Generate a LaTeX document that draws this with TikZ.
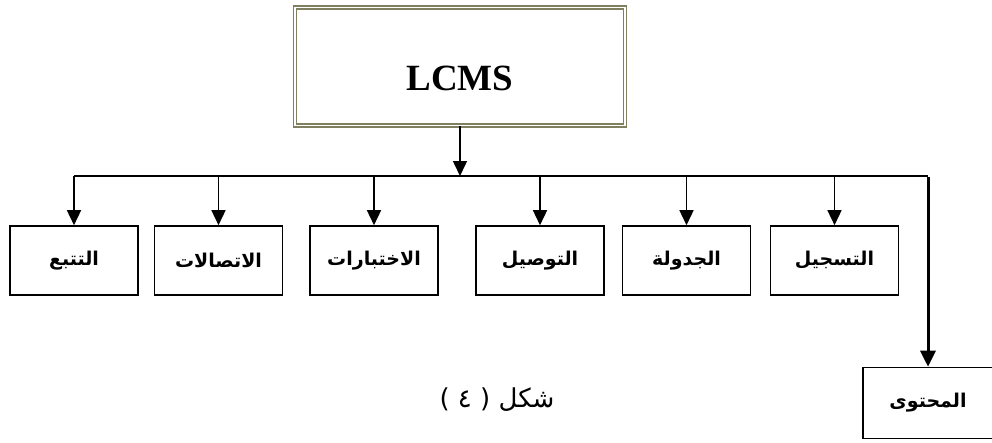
\documentclass[tikz,border=0pt]{standalone}
\usepackage{fontspec}
\setmainfont{Liberation Serif}
\newfontfamily\arabicfont[Script=Arabic]{DejaVu Sans}
\TeXXeTstate=1
\usetikzlibrary{arrows.meta}
\definecolor{olivegray}{RGB}{128,128,96}
\tikzset{
  childbox/.style={draw=black, line width=1.6pt, minimum width=128pt, minimum height=69pt, inner sep=0pt, font=\arabicfont\bfseries\fontsize{19}{22}\selectfont},
  arr/.style={line width=1.5pt, -{Triangle[width=14pt,length=15pt]}},
  busline/.style={line width=1.5pt},
}
\begin{document}
\begin{tikzpicture}[x=1pt,y=-1pt]
\useasboundingbox (0,0) rectangle (992,442);
% top box
\node[draw=olivegray, line width=1.2pt, double=white, double distance=1.8pt, minimum width=330pt, minimum height=118pt, inner sep=0pt] (lcms) at (460,66.5) {};
\node[font=\bfseries\fontsize{37}{40}\selectfont, inner sep=0pt] (lcmstext) at (460,78) {LCMS};
% children
\node[childbox] (b1) at (74,260.5) {\beginR التتبع\endR};
\node[childbox] (b2) at (218.5,260.5) {\beginR الاتصالات\endR};
\node[childbox] (b3) at (374,260.5) {\beginR الاختبارات\endR};
\node[childbox] (b4) at (540,260.5) {\beginR التوصيل\endR};
\node[childbox] (b5) at (686.5,260.5) {\beginR الجدولة\endR};
\node[childbox] (b6) at (834.5,260.5) {\beginR التسجيل\endR};
\node[childbox, minimum width=130pt, minimum height=71pt] (content) at (928,403) {\beginR المحتوى\endR};
% caption
\node[font=\arabicfont\fontsize{26}{30}\selectfont, inner sep=0pt] (caption) at (497,400) {\beginR شكل ( ٤ )\endR};
% bus
\coordinate (busL) at (b1.north |- 0,176);
\coordinate (busR) at (content.north |- 0,176);
\coordinate (busM) at (lcms.south |- 0,176);
\draw[arr] (lcms.south) -- (busM);
\draw[busline] (busL) -- (busR);
\foreach \b in {b1,b2,b3,b4,b5,b6}{
  \draw[arr] (\b.north |- busL) -- (\b.north);
}
\draw[line width=3pt, -{Triangle[width=15pt,length=16pt]}] ([yshift=-0.75pt]busR) -- (content.north);
\end{tikzpicture}
\end{document}
